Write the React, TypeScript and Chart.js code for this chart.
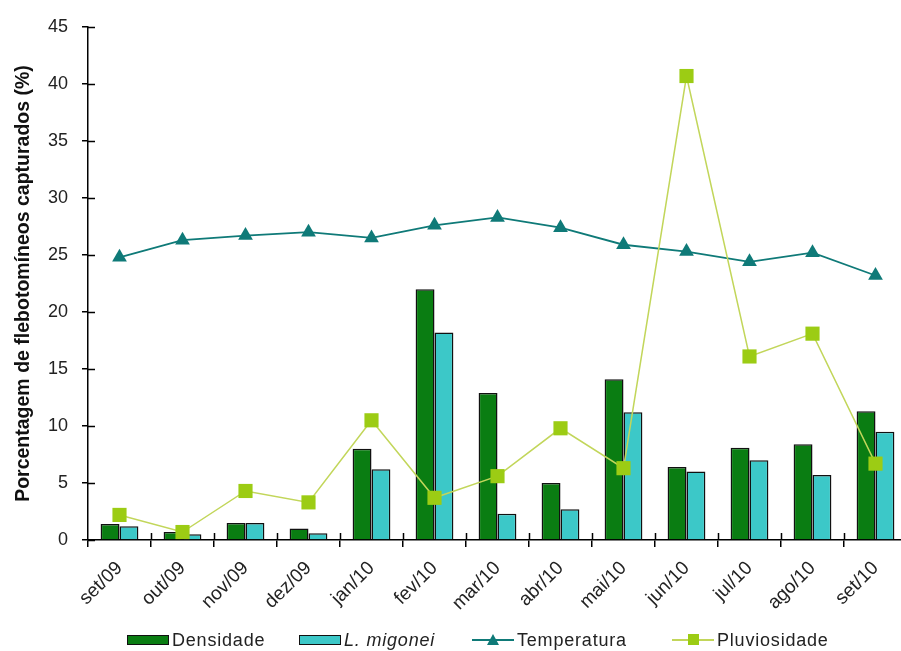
import React, { useEffect, useRef } from "react";
import { Chart, registerables } from "chart.js";

Chart.register(...registerables);

const categories = ["set/09", "out/09", "nov/09", "dez/09", "jan/10", "fev/10", "mar/10", "abr/10", "mai/10", "jun/10", "jul/10", "ago/10", "set/10"];
const densidade = [1.4, 0.7, 1.5, 1.0, 8.0, 22.0, 12.9, 5.0, 14.1, 6.4, 8.1, 8.4, 11.3];
const migonei = [1.2, 0.5, 1.5, 0.6, 6.2, 18.2, 2.3, 2.7, 11.2, 6.0, 7.0, 5.7, 9.5];
const temperatura = [24.8, 26.3, 26.7, 27.0, 26.5, 27.6, 28.3, 27.4, 25.9, 25.3, 24.4, 25.2, 23.2];
const pluviosidade = [2.2, 0.7, 4.3, 3.3, 10.5, 3.7, 5.6, 9.8, 6.3, 40.7, 16.1, 18.1, 6.7];
const yTicks = [0, 5, 10, 15, 20, 25, 30, 35, 40, 45];

const C_DENS = "#0a7d12";
const C_MIG = "#3cc8c8";
const C_TEMP = "#0f7a78";
const C_PLUV = "#9ccc14";
const C_PLUV_LINE = "#c2d65a";

const innerTicks = {
  id: "innerTicks",
  afterDraw(chart: any) {
    const { ctx, chartArea, scales } = chart;
    const x = scales.x;
    const y = scales.y;
    ctx.save();
    ctx.strokeStyle = "#000";
    ctx.lineWidth = 1.5;
    ctx.beginPath();
    yTicks.forEach((v) => {
      const py = Math.round(y.getPixelForValue(v)) + 0.5;
      ctx.moveTo(chartArea.left, py);
      ctx.lineTo(chartArea.left + 7, py);
    });
    const n = categories.length;
    const w = (chartArea.right - chartArea.left) / n;
    for (let i = 1; i <= n; i++) {
      const px = Math.round(x.getPixelForValue(i - 1) + w / 2) + 0.5;
      ctx.moveTo(px, chartArea.bottom);
      ctx.lineTo(px, chartArea.bottom - 7);
    }
    ctx.stroke();
    ctx.restore();
  },
};

function LegendItem(props: { left: number; kind: string; label: string; italic?: boolean }) {
  const { left, kind, label, italic } = props;
  let marker: any = null;
  if (kind === "dens" || kind === "mig") {
    marker = (
      <div
        style={{
          width: 42,
          height: 10,
          background: kind === "dens" ? C_DENS : C_MIG,
          border: "1.5px solid #111",
          boxSizing: "border-box",
        }}
      />
    );
  } else {
    const col = kind === "temp" ? C_TEMP : C_PLUV;
    const lineCol = kind === "temp" ? C_TEMP : C_PLUV_LINE;
    marker = (
      <div style={{ position: "relative", width: 42, height: 14 }}>
        <div style={{ position: "absolute", left: 0, top: 6, width: 42, height: 1.5, background: lineCol }} />
        {kind === "temp" ? (
          <div
            style={{
              position: "absolute",
              left: 15,
              top: 1,
              width: 0,
              height: 0,
              borderLeft: "6px solid transparent",
              borderRight: "6px solid transparent",
              borderBottom: "11px solid " + col,
            }}
          />
        ) : (
          <div style={{ position: "absolute", left: 16, top: 1, width: 11, height: 11, background: col }} />
        )}
      </div>
    );
  }
  return (
    <div style={{ position: "absolute", left, top: 0, display: "flex", alignItems: "center", height: 22 }}>
      {marker}
      <span
        style={{
          marginLeft: 3,
          fontFamily: "'Liberation Sans', Arial, sans-serif",
          fontSize: 18,
          color: "#222",
          fontStyle: italic ? "italic" : "normal",
          letterSpacing: 0.8,
          whiteSpace: "nowrap",
        }}
      >
        {label}
      </span>
    </div>
  );
}

export default function App() {
  const ref = useRef<HTMLCanvasElement | null>(null);
  useEffect(() => {
    if (!ref.current) return;
    const chart = new Chart(ref.current, {
      type: "bar",
      data: {
        labels: categories,
        datasets: [
          {
            type: "line",
            label: "Pluviosidade",
            data: pluviosidade,
            borderColor: C_PLUV_LINE,
            borderWidth: 1.5,
            pointStyle: "rect",
            pointRadius: 10,
            pointBackgroundColor: C_PLUV,
            pointBorderColor: C_PLUV,
            pointBorderWidth: 0,
            order: 0,
          } as any,
          {
            type: "line",
            label: "Temperatura",
            data: temperatura,
            borderColor: C_TEMP,
            borderWidth: 1.8,
            pointStyle: "triangle",
            pointRadius: 8.5,
            pointBackgroundColor: C_TEMP,
            pointBorderColor: C_TEMP,
            pointBorderWidth: 0,
            order: 1,
          } as any,
          {
            type: "bar",
            label: "Densidade",
            data: densidade,
            backgroundColor: C_DENS,
            borderColor: "#111",
            borderWidth: 1.5,
            categoryPercentage: 0.6,
            barPercentage: 1.0,
            order: 2,
          },
          {
            type: "bar",
            label: "L. migonei",
            data: migonei,
            backgroundColor: C_MIG,
            borderColor: "#111",
            borderWidth: 1.5,
            categoryPercentage: 0.6,
            barPercentage: 1.0,
            order: 3,
          },
        ],
      },
      options: {
        animation: false,
        responsive: false,
        maintainAspectRatio: false,
        layout: { padding: { top: 27, right: 13, bottom: 0, left: 0 } },
        plugins: { legend: { display: false }, tooltip: { enabled: false } },
        scales: {
          x: {
            offset: true,
            grid: {
              display: true,
              offset: true,
              drawOnChartArea: false,
              drawTicks: true,
              tickLength: 7,
              color: "#000",
              lineWidth: 1.5,
            },
            border: { display: true, color: "#000", width: 1.5 },
            ticks: {
              minRotation: 45,
              maxRotation: 45,
              color: "#222",
              padding: 10,
              font: { family: "'Liberation Sans', Arial, sans-serif", size: 19 },
            },
            afterFit: (axis: any) => {
              axis.height = 111;
            },
          },
          y: {
            min: 0,
            max: 45,
            afterBuildTicks: (axis: any) => {
              axis.ticks = yTicks.map((v) => ({ value: v }));
            },
            grid: {
              display: true,
              drawOnChartArea: false,
              drawTicks: true,
              tickLength: 6,
              color: "#000",
              lineWidth: 1.5,
            },
            border: { display: true, color: "#000", width: 1.5 },
            ticks: {
              color: "#222",
              padding: 14,
              font: { family: "'Liberation Sans', Arial, sans-serif", size: 18 },
            },
            title: {
              display: true,
              text: "Porcentagem de flebotomíneos capturados (%)",
              color: "#111",
              font: { family: "'Liberation Sans', Arial, sans-serif", size: 19.5, weight: "bold" },
              padding: { top: 12, bottom: 0 },
            },
            afterFit: (axis: any) => {
              axis.width = 88;
            },
          },
        },
      },
      plugins: [innerTicks],
    });
    return () => chart.destroy();
  }, []);

  return (
    <div style={{ position: "absolute", left: 0, top: 0, width: 901, height: 651, overflow: "hidden", background: "#fff" }}>
      <canvas ref={ref} width={920} height={651} style={{ width: 920, height: 651, display: "block" }} />
      <div style={{ position: "absolute", left: 0, top: 629, width: 901, height: 22 }}>
        <LegendItem left={127} kind="dens" label="Densidade" />
        <LegendItem left={299} kind="mig" label="L. migonei" italic />
        <LegendItem left={472} kind="temp" label="Temperatura" />
        <LegendItem left={672} kind="pluv" label="Pluviosidade" />
      </div>
    </div>
  );
}
